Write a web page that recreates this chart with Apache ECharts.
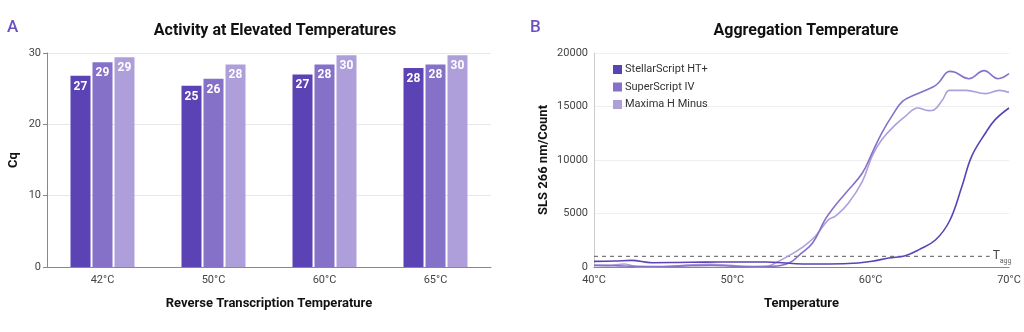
<!DOCTYPE html>
<html>
<head>
<meta charset="utf-8">
<script src="https://cdn.jsdelivr.net/npm/echarts@6/dist/echarts.min.js"></script>
<style>
  html, body { margin: 0; padding: 0; background: #fff; }
  #chart { width: 1024px; height: 332px; }
</style>
</head>
<body>
<div id="chart"></div>
<script>
// panel A: Cq per reverse transcription temperature
var rtTemps = ['42°C', '50°C', '60°C', '65°C'];
var cqStellar = [26.8, 25.4, 27.0, 27.9];
var cqSuper = [28.7, 26.4, 28.4, 28.4];
var cqMaxima = [29.4, 28.4, 29.7, 29.7];

// panel B: SLS 266 nm counts vs temperature, [°C, count]
var slsStellar = [
  [40, 530], [41.5, 560], [42.7, 620], [44.2, 400], [46, 420], [48, 460], [50, 470],
  [52.4, 470], [54.6, 310], [57, 280], [59.1, 370], [60.1, 530], [61.3, 840],
  [62.5, 1060], [63.5, 1620], [64.7, 2550], [65.7, 4300], [66.6, 7540],
  [67.3, 10340], [68.3, 12520], [69, 13770], [70, 14860]
];
var slsSuper = [
  [40, 150], [41.5, 130], [43, 60], [45, 40], [47, 120], [48.5, 150], [50, 80],
  [52, 40], [52.9, 60], [54.1, 370], [55, 1300], [55.8, 2240], [56.7, 4420],
  [57.2, 5360], [58.2, 6920], [59.4, 8780], [60.1, 10650], [60.8, 12520],
  [61.6, 14240], [62.3, 15480], [63.2, 16100], [64.5, 16820], [64.9, 17200],
  [65.7, 18280], [66.1, 18190], [67.1, 17600], [68.2, 18350], [69.2, 17600], [70, 18070]
];
var slsMaxima = [
  [40, 160], [41, 150], [42.2, 280], [43.2, 0], [45, 20], [47, 200], [48.4, 260],
  [49.8, 150], [51.5, 20], [52.5, 60], [53.1, 370], [54.1, 1060], [55, 1780],
  [56, 2870], [56.9, 4360], [57.5, 4800], [58.4, 5980], [59.4, 8000], [60.1, 10340],
  [60.8, 11900], [61.8, 13300], [62.5, 14080], [63.4, 14860], [64.2, 14610],
  [64.6, 14700], [65.2, 15640], [65.7, 16510], [66.9, 16510], [68.3, 16200],
  [69.3, 16510], [70, 16320]
];
var taggLevel = [[40, 1000], [68.6, 1000]];

var seriesNames = ['StellarScript HT+', 'SuperScript IV', 'Maxima H Minus'];
var colors = ['#5b43b5', '#8571c8', '#ae9fdb'];

var myChart = echarts.init(document.getElementById('chart'));

var barLabel = {
  show: true,
  position: 'insideTop',
  distance: 5,
  color: '#fff',
  fontWeight: 'bold',
  fontSize: 12,
  fontFamily: 'Roboto',
  formatter: function (p) { return Math.round(p.value); }
};

function barSeries(name, data, color) {
  return {
    name: name,
    type: 'bar',
    xAxisIndex: 0,
    yAxisIndex: 0,
    data: data,
    barWidth: 20,
    barGap: '10%',
    itemStyle: { color: color },
    label: barLabel
  };
}

function curveSeries(name, data, color) {
  return {
    name: name,
    type: 'line',
    xAxisIndex: 1,
    yAxisIndex: 1,
    data: data,
    smooth: 0.4,
    showSymbol: false,
    lineStyle: { color: color, width: 1.6 },
    itemStyle: { color: color }
  };
}

myChart.setOption({
  animation: false,
  textStyle: { fontFamily: 'Roboto' },
  title: [
    { text: 'A', left: 2, top: 14, textStyle: { color: '#6a50c0', fontSize: 17, fontWeight: 500 } },
    { text: 'Activity at Elevated Temperatures', left: 270, top: 18, textAlign: 'center',
      textStyle: { color: '#111', fontSize: 16, fontWeight: 'bold' } },
    { text: 'B', left: 525, top: 14, textStyle: { color: '#6a50c0', fontSize: 17, fontWeight: 500 } },
    { text: 'Aggregation Temperature', left: 801, top: 18, textAlign: 'center',
      textStyle: { color: '#111', fontSize: 16, fontWeight: 'bold' } }
  ],
  legend: {
    data: seriesNames.map(function (n) { return { name: n, icon: 'rect' }; }),
    orient: 'vertical',
    left: 608,
    top: 59,
    itemWidth: 9,
    itemHeight: 9,
    itemGap: 6.5,
    textStyle: { fontSize: 11, color: '#333', padding: [0, 0, 0, -2] }
  },
  grid: [
    { left: 47, right: 533, top: 53, bottom: 65 },
    { left: 594, right: 15, top: 53, bottom: 65 }
  ],
  xAxis: [
    {
      gridIndex: 0,
      type: 'category',
      data: rtTemps,
      name: 'Reverse Transcription Temperature',
      nameLocation: 'middle',
      nameGap: 30,
      nameTextStyle: { fontSize: 13, fontWeight: 'bold', color: '#111' },
      axisLine: { lineStyle: { color: '#888' } },
      axisTick: { length: 4, lineStyle: { color: '#888' } },
      axisLabel: { color: '#444', fontSize: 11, margin: 8 }
    },
    {
      gridIndex: 1,
      type: 'value',
      min: 40,
      max: 70,
      interval: 10,
      name: 'Temperature',
      nameLocation: 'middle',
      nameGap: 30,
      nameTextStyle: { fontSize: 13, fontWeight: 'bold', color: '#111' },
      axisLine: { lineStyle: { color: '#888' } },
      axisTick: { show: false },
      splitLine: { show: false },
      axisLabel: { color: '#444', fontSize: 11, margin: 8, formatter: '{value}°C' }
    }
  ],
  yAxis: [
    {
      gridIndex: 0,
      type: 'value',
      min: 0,
      max: 30,
      interval: 10,
      name: 'Cq',
      nameLocation: 'middle',
      nameGap: 27,
      nameTextStyle: { fontSize: 13, fontWeight: 'bold', color: '#111' },
      axisLine: { show: true, lineStyle: { color: '#888' } },
      axisTick: { show: true, length: 4, lineStyle: { color: '#888' } },
      axisLabel: { color: '#444', fontSize: 11, margin: 6 },
      splitLine: { lineStyle: { color: '#e8e8e8' } }
    },
    {
      gridIndex: 1,
      type: 'value',
      min: 0,
      max: 20000,
      interval: 5000,
      name: 'SLS 266 nm/Count',
      nameLocation: 'middle',
      nameGap: 44,
      nameTextStyle: { fontSize: 13, fontWeight: 'bold', color: '#111' },
      axisLine: { show: true, lineStyle: { color: '#ccc' } },
      axisTick: { show: false },
      axisLabel: { color: '#444', fontSize: 11, margin: 6, formatter: function (v) { return String(v); } },
      splitLine: { lineStyle: { color: '#eeeeee' } }
    }
  ],
  series: [
    barSeries(seriesNames[0], cqStellar, colors[0]),
    barSeries(seriesNames[1], cqSuper, colors[1]),
    barSeries(seriesNames[2], cqMaxima, colors[2]),
    {
      name: 'Tagg',
      type: 'line',
      xAxisIndex: 1,
      yAxisIndex: 1,
      data: taggLevel,
      showSymbol: false,
      silent: true,
      lineStyle: { color: '#555', width: 1, type: [4, 4] },
      endLabel: {
        show: true,
        distance: 3,
        formatter: '{t|T}{s|agg}',
        rich: {
          t: { fontSize: 12, color: '#444' },
          s: { fontSize: 7, color: '#666', padding: [10, 0, 0, 0] }
        }
      }
    },
    curveSeries(seriesNames[2], slsMaxima, colors[2]),
    curveSeries(seriesNames[1], slsSuper, colors[1]),
    curveSeries(seriesNames[0], slsStellar, colors[0])
  ]
});
</script>
</body>
</html>
